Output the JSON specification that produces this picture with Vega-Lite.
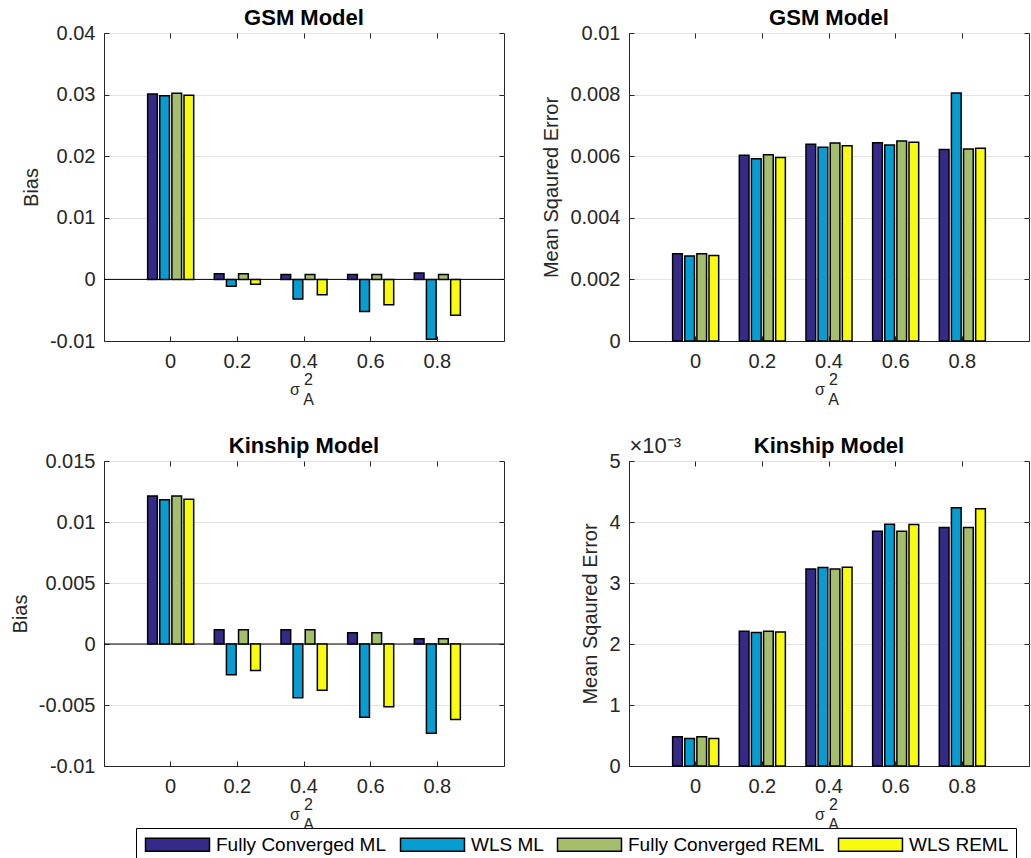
{
  "$schema": "https://vega.github.io/schema/vega-lite/v6.json",
  "background": "white",
  "padding": {"left": 9, "top": 6, "right": 0, "bottom": 0},
  "data": {
    "values": [
      {"panel": "GSM Bias", "sigma": "0", "method": "Fully Converged ML", "value": 0.0301},
      {"panel": "GSM Bias", "sigma": "0", "method": "WLS ML", "value": 0.0298},
      {"panel": "GSM Bias", "sigma": "0", "method": "Fully Converged REML", "value": 0.0302},
      {"panel": "GSM Bias", "sigma": "0", "method": "WLS REML", "value": 0.0299},
      {"panel": "GSM Bias", "sigma": "0.2", "method": "Fully Converged ML", "value": 0.0009},
      {"panel": "GSM Bias", "sigma": "0.2", "method": "WLS ML", "value": -0.0011},
      {"panel": "GSM Bias", "sigma": "0.2", "method": "Fully Converged REML", "value": 0.0009},
      {"panel": "GSM Bias", "sigma": "0.2", "method": "WLS REML", "value": -0.0008},
      {"panel": "GSM Bias", "sigma": "0.4", "method": "Fully Converged ML", "value": 0.0008},
      {"panel": "GSM Bias", "sigma": "0.4", "method": "WLS ML", "value": -0.0032},
      {"panel": "GSM Bias", "sigma": "0.4", "method": "Fully Converged REML", "value": 0.0008},
      {"panel": "GSM Bias", "sigma": "0.4", "method": "WLS REML", "value": -0.0025},
      {"panel": "GSM Bias", "sigma": "0.6", "method": "Fully Converged ML", "value": 0.0008},
      {"panel": "GSM Bias", "sigma": "0.6", "method": "WLS ML", "value": -0.0052},
      {"panel": "GSM Bias", "sigma": "0.6", "method": "Fully Converged REML", "value": 0.0008},
      {"panel": "GSM Bias", "sigma": "0.6", "method": "WLS REML", "value": -0.0041},
      {"panel": "GSM Bias", "sigma": "0.8", "method": "Fully Converged ML", "value": 0.00105},
      {"panel": "GSM Bias", "sigma": "0.8", "method": "WLS ML", "value": -0.0097},
      {"panel": "GSM Bias", "sigma": "0.8", "method": "Fully Converged REML", "value": 0.0008},
      {"panel": "GSM Bias", "sigma": "0.8", "method": "WLS REML", "value": -0.0058},

      {"panel": "GSM MSE", "sigma": "0", "method": "Fully Converged ML", "value": 0.00283},
      {"panel": "GSM MSE", "sigma": "0", "method": "WLS ML", "value": 0.00276},
      {"panel": "GSM MSE", "sigma": "0", "method": "Fully Converged REML", "value": 0.00283},
      {"panel": "GSM MSE", "sigma": "0", "method": "WLS REML", "value": 0.00278},
      {"panel": "GSM MSE", "sigma": "0.2", "method": "Fully Converged ML", "value": 0.00603},
      {"panel": "GSM MSE", "sigma": "0.2", "method": "WLS ML", "value": 0.00592},
      {"panel": "GSM MSE", "sigma": "0.2", "method": "Fully Converged REML", "value": 0.00605},
      {"panel": "GSM MSE", "sigma": "0.2", "method": "WLS REML", "value": 0.00596},
      {"panel": "GSM MSE", "sigma": "0.4", "method": "Fully Converged ML", "value": 0.00639},
      {"panel": "GSM MSE", "sigma": "0.4", "method": "WLS ML", "value": 0.00629},
      {"panel": "GSM MSE", "sigma": "0.4", "method": "Fully Converged REML", "value": 0.00643},
      {"panel": "GSM MSE", "sigma": "0.4", "method": "WLS REML", "value": 0.00634},
      {"panel": "GSM MSE", "sigma": "0.6", "method": "Fully Converged ML", "value": 0.00644},
      {"panel": "GSM MSE", "sigma": "0.6", "method": "WLS ML", "value": 0.00636},
      {"panel": "GSM MSE", "sigma": "0.6", "method": "Fully Converged REML", "value": 0.00649},
      {"panel": "GSM MSE", "sigma": "0.6", "method": "WLS REML", "value": 0.00645},
      {"panel": "GSM MSE", "sigma": "0.8", "method": "Fully Converged ML", "value": 0.00622},
      {"panel": "GSM MSE", "sigma": "0.8", "method": "WLS ML", "value": 0.00805},
      {"panel": "GSM MSE", "sigma": "0.8", "method": "Fully Converged REML", "value": 0.00623},
      {"panel": "GSM MSE", "sigma": "0.8", "method": "WLS REML", "value": 0.00626},

      {"panel": "Kinship Bias", "sigma": "0", "method": "Fully Converged ML", "value": 0.01213},
      {"panel": "Kinship Bias", "sigma": "0", "method": "WLS ML", "value": 0.01183},
      {"panel": "Kinship Bias", "sigma": "0", "method": "Fully Converged REML", "value": 0.01213},
      {"panel": "Kinship Bias", "sigma": "0", "method": "WLS REML", "value": 0.01186},
      {"panel": "Kinship Bias", "sigma": "0.2", "method": "Fully Converged ML", "value": 0.00117},
      {"panel": "Kinship Bias", "sigma": "0.2", "method": "WLS ML", "value": -0.00253},
      {"panel": "Kinship Bias", "sigma": "0.2", "method": "Fully Converged REML", "value": 0.00117},
      {"panel": "Kinship Bias", "sigma": "0.2", "method": "WLS REML", "value": -0.00218},
      {"panel": "Kinship Bias", "sigma": "0.4", "method": "Fully Converged ML", "value": 0.00117},
      {"panel": "Kinship Bias", "sigma": "0.4", "method": "WLS ML", "value": -0.00441},
      {"panel": "Kinship Bias", "sigma": "0.4", "method": "Fully Converged REML", "value": 0.00117},
      {"panel": "Kinship Bias", "sigma": "0.4", "method": "WLS REML", "value": -0.00379},
      {"panel": "Kinship Bias", "sigma": "0.6", "method": "Fully Converged ML", "value": 0.00092},
      {"panel": "Kinship Bias", "sigma": "0.6", "method": "WLS ML", "value": -0.006},
      {"panel": "Kinship Bias", "sigma": "0.6", "method": "Fully Converged REML", "value": 0.00092},
      {"panel": "Kinship Bias", "sigma": "0.6", "method": "WLS REML", "value": -0.00515},
      {"panel": "Kinship Bias", "sigma": "0.8", "method": "Fully Converged ML", "value": 0.00043},
      {"panel": "Kinship Bias", "sigma": "0.8", "method": "WLS ML", "value": -0.00731},
      {"panel": "Kinship Bias", "sigma": "0.8", "method": "Fully Converged REML", "value": 0.00043},
      {"panel": "Kinship Bias", "sigma": "0.8", "method": "WLS REML", "value": -0.00618},

      {"panel": "Kinship MSE", "sigma": "0", "method": "Fully Converged ML", "value": 0.000478},
      {"panel": "Kinship MSE", "sigma": "0", "method": "WLS ML", "value": 0.00045},
      {"panel": "Kinship MSE", "sigma": "0", "method": "Fully Converged REML", "value": 0.000478},
      {"panel": "Kinship MSE", "sigma": "0", "method": "WLS REML", "value": 0.00045},
      {"panel": "Kinship MSE", "sigma": "0.2", "method": "Fully Converged ML", "value": 0.002207},
      {"panel": "Kinship MSE", "sigma": "0.2", "method": "WLS ML", "value": 0.00219},
      {"panel": "Kinship MSE", "sigma": "0.2", "method": "Fully Converged REML", "value": 0.002207},
      {"panel": "Kinship MSE", "sigma": "0.2", "method": "WLS REML", "value": 0.002196},
      {"panel": "Kinship MSE", "sigma": "0.4", "method": "Fully Converged ML", "value": 0.003229},
      {"panel": "Kinship MSE", "sigma": "0.4", "method": "WLS ML", "value": 0.003256},
      {"panel": "Kinship MSE", "sigma": "0.4", "method": "Fully Converged REML", "value": 0.003229},
      {"panel": "Kinship MSE", "sigma": "0.4", "method": "WLS REML", "value": 0.00326},
      {"panel": "Kinship MSE", "sigma": "0.6", "method": "Fully Converged ML", "value": 0.00385},
      {"panel": "Kinship MSE", "sigma": "0.6", "method": "WLS ML", "value": 0.003965},
      {"panel": "Kinship MSE", "sigma": "0.6", "method": "Fully Converged REML", "value": 0.00385},
      {"panel": "Kinship MSE", "sigma": "0.6", "method": "WLS REML", "value": 0.00396},
      {"panel": "Kinship MSE", "sigma": "0.8", "method": "Fully Converged ML", "value": 0.00391},
      {"panel": "Kinship MSE", "sigma": "0.8", "method": "WLS ML", "value": 0.004234},
      {"panel": "Kinship MSE", "sigma": "0.8", "method": "Fully Converged REML", "value": 0.00391},
      {"panel": "Kinship MSE", "sigma": "0.8", "method": "WLS REML", "value": 0.004217}
    ]
  },
  "columns": 2,
  "spacing": {"row": 120, "column": 125},
  "bounds": "flush",
  "resolve": {"scale": {"x": "independent", "y": "independent", "color": "shared"}},
  "concat": [
    {
      "width": 400,
      "height": 308,
      "title": "GSM Model",
      "transform": [{"filter": "datum.panel == 'GSM Bias'"}],
      "resolve": {"axis": {"x": "independent", "y": "independent"}},
      "layer": [
        {
          "transform": [{"filter": "datum.sigma == '0' && datum.method == 'WLS ML'"}],
          "mark": {"type": "rule", "color": "black", "strokeWidth": 1},
          "encoding": {
            "y": {"datum": 0, "type": "quantitative", "axis": null, "scale": {"domain": [-0.01, 0.04]}}
          }
        },
        {
          "mark": {"type": "bar", "stroke": "black", "strokeWidth": 1.5},
          "encoding": {
            "x": {"field": "sigma", "type": "nominal", "sort": ["0", "0.2", "0.4", "0.6", "0.8"],
                  "scale": {"paddingInner": 0.273, "paddingOuter": 0.6365},
                  "axis": {"title": ["\u200b\u20022", "\u03c3\u2002\u2002\u2009\u200b", "\u200b\u2002A"]}},
            "xOffset": {"field": "method", "type": "nominal",
                        "sort": ["Fully Converged ML", "WLS ML", "Fully Converged REML", "WLS REML"],
                        "scale": {"paddingInner": 0.2, "paddingOuter": 0.1}},
            "y": {"field": "value", "type": "quantitative", "stack": null,
                  "scale": {"domain": [-0.01, 0.04]},
                  "axis": {"title": "Bias", "grid": true, "values": [-0.01, 0, 0.01, 0.02, 0.03, 0.04],
                           "labelExpr": "'' + datum.value"}},
            "color": {"field": "method", "type": "nominal",
                      "scale": {"domain": ["Fully Converged ML", "WLS ML", "Fully Converged REML", "WLS REML"]}}
          }
        },
        {
          "mark": {"type": "bar", "opacity": 0},
          "encoding": {
            "x": {"field": "sigma", "type": "nominal", "sort": ["0", "0.2", "0.4", "0.6", "0.8"],
                  "scale": {"paddingInner": 0.273, "paddingOuter": 0.6365},
                  "axis": {"orient": "top", "labels": false, "title": null, "domain": false}},
            "y": {"field": "value", "type": "quantitative", "stack": null,
                  "scale": {"domain": [-0.01, 0.04]},
                  "axis": {"orient": "right", "labels": false, "title": null, "domain": false, "grid": false,
                           "values": [-0.01, 0, 0.01, 0.02, 0.03, 0.04]}}
          }
        }
      ]
    },
    {
      "width": 400,
      "height": 308,
      "title": "GSM Model",
      "transform": [{"filter": "datum.panel == 'GSM MSE'"}],
      "resolve": {"axis": {"x": "independent", "y": "independent"}},
      "layer": [
        {
          "mark": {"type": "bar", "stroke": "black", "strokeWidth": 1.5},
          "encoding": {
            "x": {"field": "sigma", "type": "nominal", "sort": ["0", "0.2", "0.4", "0.6", "0.8"],
                  "scale": {"paddingInner": 0.273, "paddingOuter": 0.6365},
                  "axis": {"title": ["\u200b\u20022", "\u03c3\u2002\u2002\u2009\u200b", "\u200b\u2002A"]}},
            "xOffset": {"field": "method", "type": "nominal",
                        "sort": ["Fully Converged ML", "WLS ML", "Fully Converged REML", "WLS REML"],
                        "scale": {"paddingInner": 0.2, "paddingOuter": 0.1}},
            "y": {"field": "value", "type": "quantitative", "stack": null,
                  "scale": {"domain": [0, 0.01]},
                  "axis": {"title": "Mean Sqaured Error", "grid": true,
                           "values": [0, 0.002, 0.004, 0.006, 0.008, 0.01],
                           "labelExpr": "'' + datum.value"}},
            "color": {"field": "method", "type": "nominal",
                      "scale": {"domain": ["Fully Converged ML", "WLS ML", "Fully Converged REML", "WLS REML"]}}
          }
        },
        {
          "mark": {"type": "bar", "opacity": 0},
          "encoding": {
            "x": {"field": "sigma", "type": "nominal", "sort": ["0", "0.2", "0.4", "0.6", "0.8"],
                  "scale": {"paddingInner": 0.273, "paddingOuter": 0.6365},
                  "axis": {"orient": "top", "labels": false, "title": null, "domain": false}},
            "y": {"field": "value", "type": "quantitative", "stack": null,
                  "scale": {"domain": [0, 0.01]},
                  "axis": {"orient": "right", "labels": false, "title": null, "domain": false, "grid": false,
                           "values": [0, 0.002, 0.004, 0.006, 0.008, 0.01]}}
          }
        }
      ]
    },
    {
      "width": 400,
      "height": 305,
      "title": "Kinship Model",
      "transform": [{"filter": "datum.panel == 'Kinship Bias'"}],
      "resolve": {"axis": {"x": "independent", "y": "independent"}},
      "layer": [
        {
          "transform": [{"filter": "datum.sigma == '0' && datum.method == 'WLS ML'"}],
          "mark": {"type": "rule", "color": "black", "strokeWidth": 1},
          "encoding": {
            "y": {"datum": 0, "type": "quantitative", "axis": null, "scale": {"domain": [-0.01, 0.015]}}
          }
        },
        {
          "mark": {"type": "bar", "stroke": "black", "strokeWidth": 1.5},
          "encoding": {
            "x": {"field": "sigma", "type": "nominal", "sort": ["0", "0.2", "0.4", "0.6", "0.8"],
                  "scale": {"paddingInner": 0.273, "paddingOuter": 0.6365},
                  "axis": {"title": ["\u200b\u20022", "\u03c3\u2002\u2002\u2009\u200b", "\u200b\u2002A"]}},
            "xOffset": {"field": "method", "type": "nominal",
                        "sort": ["Fully Converged ML", "WLS ML", "Fully Converged REML", "WLS REML"],
                        "scale": {"paddingInner": 0.2, "paddingOuter": 0.1}},
            "y": {"field": "value", "type": "quantitative", "stack": null,
                  "scale": {"domain": [-0.01, 0.015]},
                  "axis": {"title": "Bias", "grid": true,
                           "values": [-0.01, -0.005, 0, 0.005, 0.01, 0.015],
                           "labelExpr": "'' + datum.value"}},
            "color": {"field": "method", "type": "nominal",
                      "scale": {"domain": ["Fully Converged ML", "WLS ML", "Fully Converged REML", "WLS REML"]}}
          }
        },
        {
          "mark": {"type": "bar", "opacity": 0},
          "encoding": {
            "x": {"field": "sigma", "type": "nominal", "sort": ["0", "0.2", "0.4", "0.6", "0.8"],
                  "scale": {"paddingInner": 0.273, "paddingOuter": 0.6365},
                  "axis": {"orient": "top", "labels": false, "title": null, "domain": false}},
            "y": {"field": "value", "type": "quantitative", "stack": null,
                  "scale": {"domain": [-0.01, 0.015]},
                  "axis": {"orient": "right", "labels": false, "title": null, "domain": false, "grid": false,
                           "values": [-0.01, -0.005, 0, 0.005, 0.01, 0.015]}}
          }
        }
      ]
    },
    {
      "width": 400,
      "height": 305,
      "title": {"text": "Kinship Model", "offset": -23},
      "transform": [{"filter": "datum.panel == 'Kinship MSE'"}],
      "resolve": {"axis": {"x": "independent", "y": "independent"}},
      "layer": [
        {
          "mark": {"type": "bar", "stroke": "black", "strokeWidth": 1.5},
          "encoding": {
            "x": {"field": "sigma", "type": "nominal", "sort": ["0", "0.2", "0.4", "0.6", "0.8"],
                  "scale": {"paddingInner": 0.273, "paddingOuter": 0.6365},
                  "axis": {"title": ["\u200b\u20022", "\u03c3\u2002\u2002\u2009\u200b", "\u200b\u2002A"]}},
            "xOffset": {"field": "method", "type": "nominal",
                        "sort": ["Fully Converged ML", "WLS ML", "Fully Converged REML", "WLS REML"],
                        "scale": {"paddingInner": 0.2, "paddingOuter": 0.1}},
            "y": {"field": "value", "type": "quantitative", "stack": null,
                  "scale": {"domain": [0, 0.005]},
                  "axis": {"title": "Mean Sqaured Error", "grid": true,
                           "values": [0, 0.001, 0.002, 0.003, 0.004, 0.005],
                           "labelExpr": "'' + round(datum.value * 1000)"}},
            "color": {"field": "method", "type": "nominal",
                      "scale": {"domain": ["Fully Converged ML", "WLS ML", "Fully Converged REML", "WLS REML"]}}
          }
        },
        {
          "mark": {"type": "bar", "opacity": 0},
          "encoding": {
            "x": {"field": "sigma", "type": "nominal", "sort": ["0", "0.2", "0.4", "0.6", "0.8"],
                  "scale": {"paddingInner": 0.273, "paddingOuter": 0.6365},
                  "axis": {"orient": "top", "labels": false, "domain": false,
                           "title": "\u00d710\u207b\u00b3", "titleAnchor": "start", "titleAlign": "left",
                           "titleFontSize": 22, "titleLineHeight": 22, "titlePadding": 3}},
            "y": {"field": "value", "type": "quantitative", "stack": null,
                  "scale": {"domain": [0, 0.005]},
                  "axis": {"orient": "right", "labels": false, "title": null, "domain": false, "grid": false,
                           "values": [0, 0.001, 0.002, 0.003, 0.004, 0.005]}}
          }
        }
      ]
    }
  ],
  "config": {
    "font": "Liberation Sans",
    "view": {"stroke": "#262626", "strokeWidth": 1},
    "axis": {
      "domainColor": "#262626",
      "tickColor": "#262626",
      "tickSize": -5,
      "labelColor": "#262626",
      "labelFontSize": 20,
      "labelPadding": 13,
      "titleColor": "#262626",
      "titleFontSize": 20,
      "titleFontWeight": "normal",
      "titlePadding": 8,
      "gridColor": "#e3e3e3",
      "gridWidth": 1
    },
    "axisY": {"labelPadding": 14},
    "axisX": {"labelAngle": 0, "labelPadding": 15, "titleFontSize": 16, "titleLineHeight": 10, "titlePadding": 0},
    "title": {"fontSize": 22, "fontWeight": "bold", "color": "black", "offset": -7},
    "range": {"category": ["#352a87", "#069dd3", "#a5be6b", "#f9fb0e"]},
    "legend": {
      "orient": "none",
      "legendX": 32,
      "legendY": 795,
      "direction": "horizontal",
      "title": null,
      "symbolType": "M-4.92,-1H4.92V1H-4.92Z",
      "symbolSize": 169,
      "symbolOffset": 25,
      "symbolStrokeColor": "black",
      "symbolStrokeWidth": 1.5,
      "symbolOpacity": 1,
      "labelFontSize": 19,
      "labelColor": "black",
      "labelLimit": 400,
      "labelOffset": 29,
      "columnPadding": 10,
      "padding": 7,
      "strokeColor": "black",
      "fillColor": "white"
    }
  }
}
